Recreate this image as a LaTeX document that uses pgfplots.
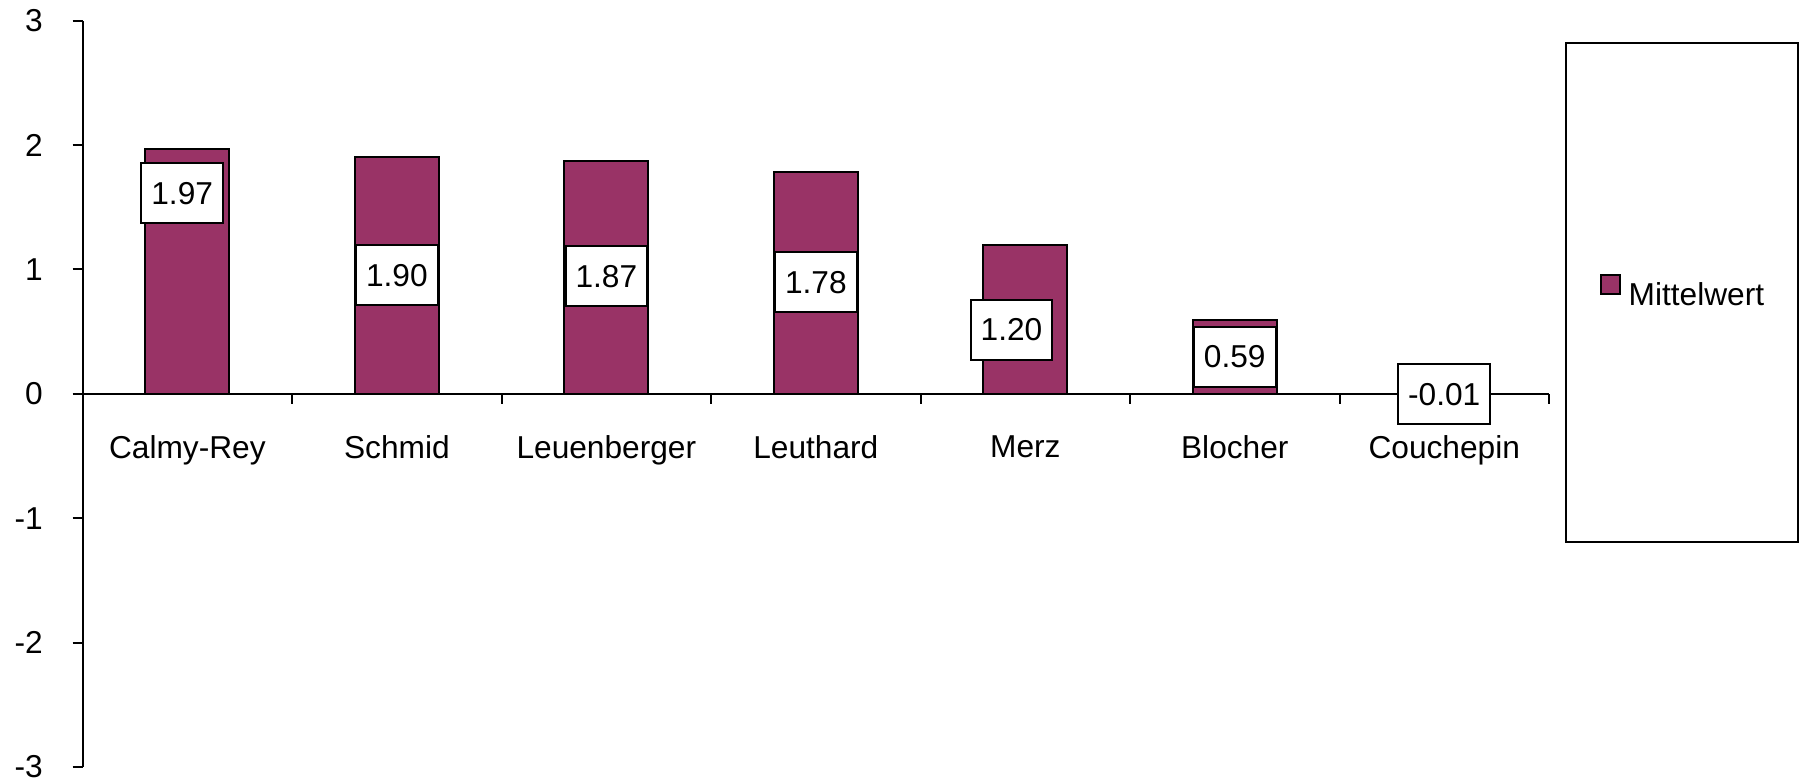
\documentclass[border=0pt]{standalone}
\usepackage{fontspec}
\setmainfont{Liberation Sans}
\usepackage{pgfplots}
\pgfplotsset{compat=1.18}
\definecolor{plum}{RGB}{153,51,102}
\begin{document}
\begin{tikzpicture}[font=\fontsize{9.5}{11.4}\selectfont]
\begin{axis}[
  scale only axis, width=439.9pt, height=223.9pt,
  xmin=-0.5, xmax=6.5, ymin=-3, ymax=3,
  axis y line*=left, axis x line*=middle,
  axis line style={line width=0.6pt, black},
  ytick={-3,-2,-1,0,1,2,3},
  yticklabels={-3,-2,-1,0,1,2,3},
  ytick align=outside,
  yticklabel style={inner sep=0pt, xshift=-8.8pt},
  xtick={0,1,2,3,4,5,6},
  xticklabels={Calmy-Rey,Schmid,Leuenberger,Leuthard,Merz,Blocher,Couchepin},
  major x tick style={draw=none},
  minor xtick={-0.5,0.5,1.5,2.5,3.5,4.5,5.5,6.5},
  minor x tick style={draw=black, line width=0.6pt},
  minor tick length=3pt,
  major tick length=3pt,
  xtick align=outside,
  tick style={line width=0.6pt, black},
  xticklabel style={yshift=-6pt},
  legend style={at={(1.0109,0.9714)}, anchor=north west, draw=black, line width=0.6pt,
    inner xsep=10.1pt, inner ysep=69.4pt, column sep=2.4pt,
    nodes={inner sep=0pt}},
]
\addplot[ybar, bar width=25.2pt, fill=plum, draw=black, line width=0.6pt,
  legend image code/.code={\draw[fill=plum,draw=black,line width=0.6pt] (0pt,0.6pt) rectangle (5.7pt,6.3pt);}]
  coordinates {(0,1.97) (1,1.90) (2,1.87) (3,1.78) (4,1.20) (5,0.59) (6,-0.01)};
\addlegendentry{Mittelwert}
\tikzset{lab/.style={draw=black, fill=white, line width=0.6pt, inner xsep=3pt, inner ysep=0pt, minimum height=18pt}}
\node[lab] at (axis cs:-0.025,1.612) {1.97};
\node[lab] at (axis cs:1,0.953) {1.90};
\node[lab] at (axis cs:2,0.945) {1.87};
\node[lab] at (axis cs:3,0.896) {1.78};
\node[lab] at (axis cs:3.934,0.514) {1.20};
\node[lab] at (axis cs:5,0.297) {0.59};
\node[lab] at (axis cs:6,-0.004) {-0.01};
\end{axis}
\path (current axis.south west) ++(-24.8pt,-4.5pt) rectangle ++(540pt,234.6pt);
\end{tikzpicture}
\end{document}
